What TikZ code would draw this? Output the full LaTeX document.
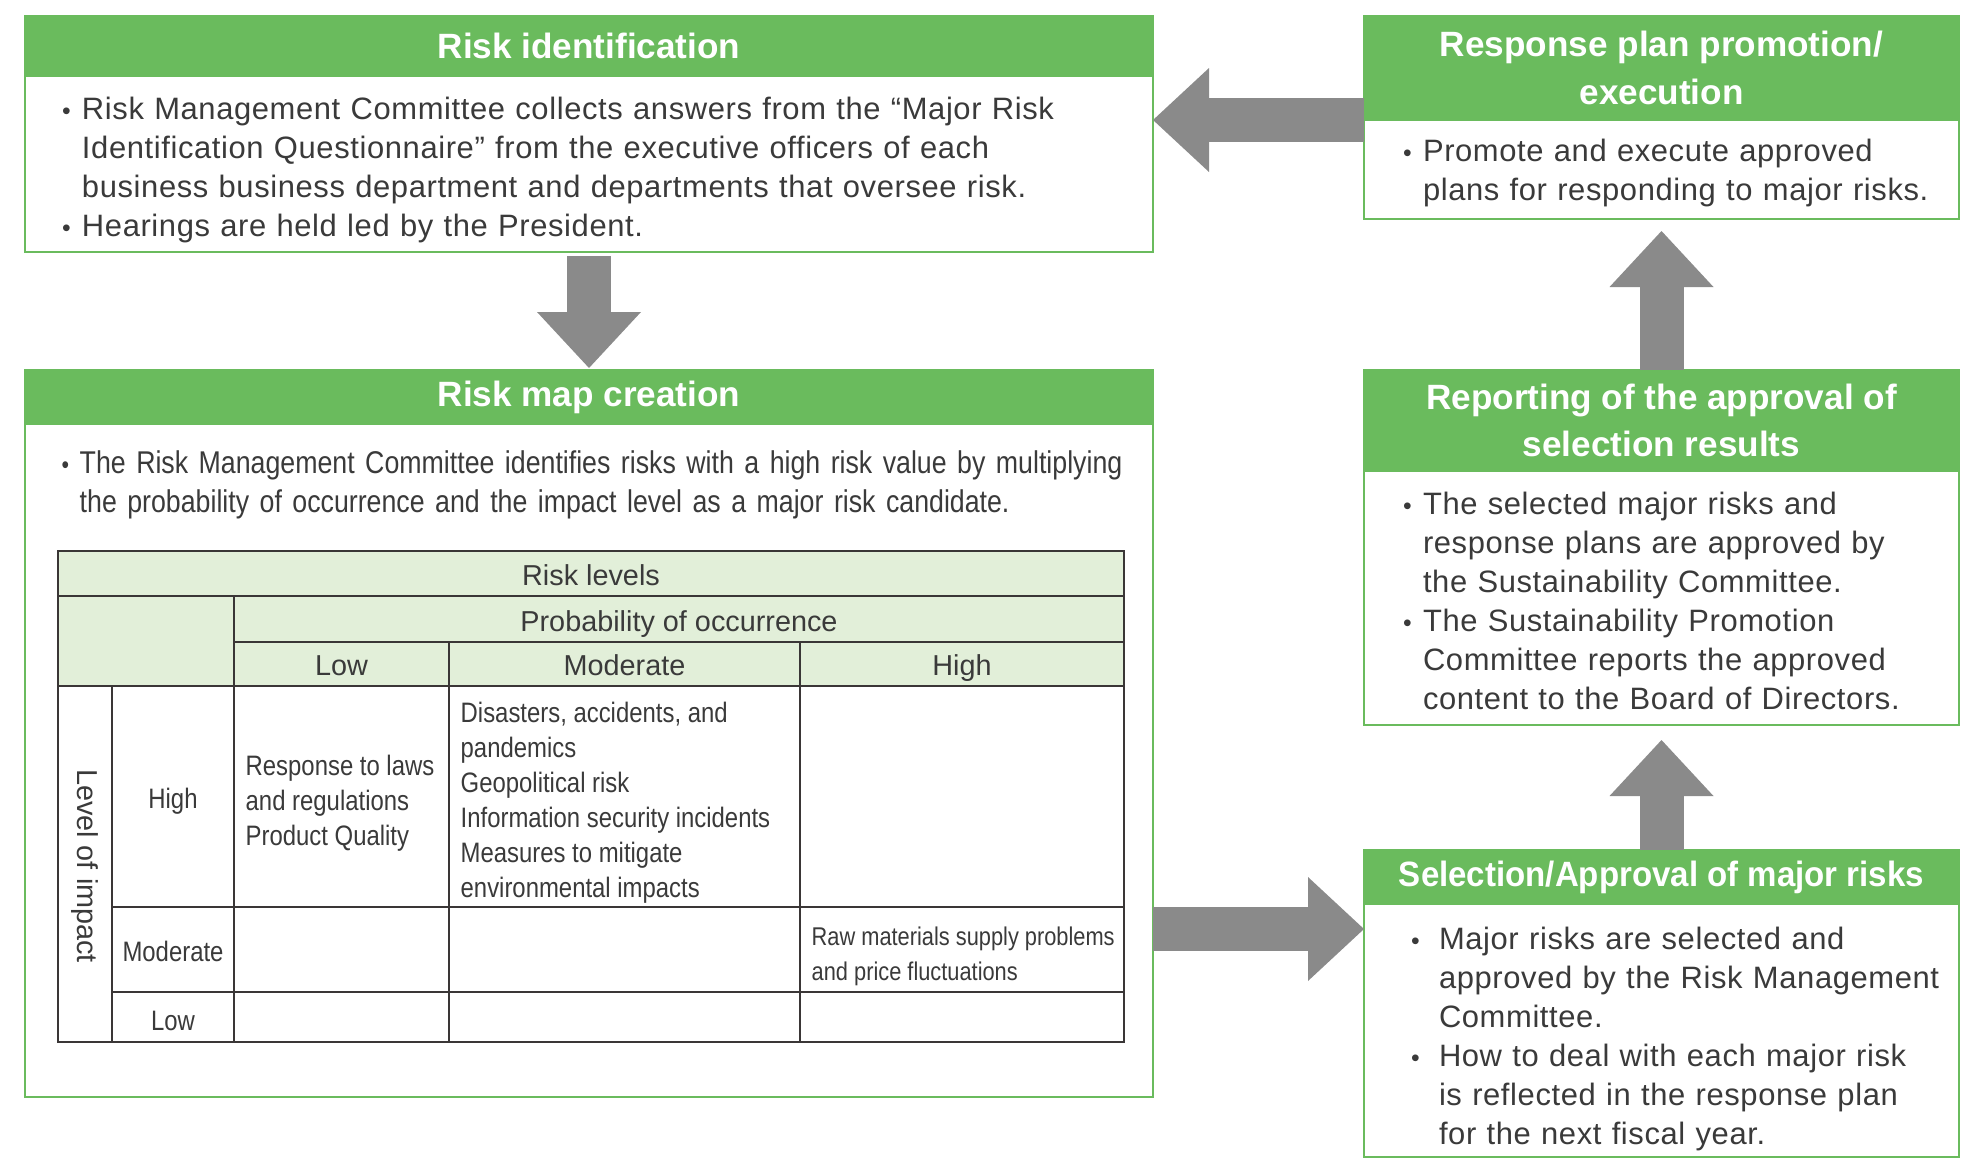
\documentclass[tikz,border=0pt]{standalone}
\usepackage{fontspec}
\setmainfont{Liberation Sans}
\newfontfamily\bodyfamily[LetterSpace=2]{Liberation Sans}
\newfontfamily\condfamily[FakeStretch=0.85]{Liberation Sans}
\newfontfamily\narrowfamily[FakeStretch=0.94]{Liberation Sans}
\usetikzlibrary{positioning,arrows.meta}
\definecolor{palGreen}{HTML}{6ABB5D}
\definecolor{palGreenLt}{HTML}{E2EFD9}
\definecolor{palGray}{HTML}{8A8A8A}
\definecolor{palText}{HTML}{3A3A3A}
\definecolor{palRule}{HTML}{3A3636}
\newcommand{\titlefont}{\fontsize{10}{13.6}\selectfont\bfseries}
\newcommand{\bodytext}{\bodyfamily\fontsize{8.8}{11.1}\selectfont}
\newcommand{\maptext}{\condfamily\fontsize{8.95}{11.2}\selectfont}
\newcommand{\celltext}{\condfamily\fontsize{8}{9.95}\selectfont}
\newcommand{\headtext}{\fontsize{8.2}{10}\selectfont}
% bullet list: #1 = bullet offset, #2 = text offset
\newenvironment{blist}[2]{\begin{list}{\scalebox{0.8}{\textbullet}}{%
  \setlength{\leftmargin}{#2}\setlength{\labelwidth}{\dimexpr#2-#1\relax}%
  \setlength{\labelsep}{0pt}\setlength{\itemindent}{0pt}%
  \setlength{\itemsep}{0pt}\setlength{\parsep}{0pt}\setlength{\topsep}{0pt}%
  \setlength{\partopsep}{0pt}\renewcommand{\makelabel}[1]{##1\hfil}}}{\end{list}}
\tikzset{
  headbox/.style={draw=palGreen, fill=palGreen, text=white, font=\titlefont,
                  align=center, inner sep=0pt, outer sep=0pt, line width=0.25mm},
  bodybox/.style={draw=palGreen, fill=white, text=palText, font=\bodytext,
                  align=left, inner ysep=0pt, inner xsep=2mm, outer sep=0pt,
                  line width=0.25mm},
  tabrule/.style={draw=palRule, line width=0.17mm},
  cellhead/.style={font=\headtext, text=palText, inner sep=0pt, anchor=base},
  rowhead/.style={cellhead, font=\celltext},
  celltxt/.style={font=\celltext, text=palText, align=left, anchor=west, inner sep=0pt},
  blockarrow/.style={draw=palGray, line width=4.4mm,
                     -{Triangle[length=5.6mm, width=10.4mm, line width=0pt]}},
}
\begin{document}
\begin{tikzpicture}[x=1mm, y=-1mm]
\useasboundingbox (0,0) rectangle (198,117.5);

%% Risk identification
\node[headbox, minimum width=112.8mm, minimum height=6mm, anchor=north west]
  (identhead) at (2.5,1.6) {Risk identification};
\node[bodybox, minimum width=112.8mm, text width=108.8mm, minimum height=17.6mm,
  below=0pt of identhead] (identbody) {%
  \begin{blist}{1.7mm}{3.7mm}
  \item Risk Management Committee collects answers from the “Major Risk\newline
    Identification Questionnaire” from the executive officers of each\newline
    business business department and departments that oversee risk.
  \item Hearings are held led by the President.
  \end{blist}\vspace*{0.5mm}};

%% Risk map creation
\node[headbox, minimum width=112.8mm, minimum height=5.4mm, anchor=north west]
  (maphead) at (2.5,37.0) {Risk map creation};
\node[bodybox, minimum width=112.8mm, minimum height=67.3mm, below=0pt of maphead]
  (mapbody) {};
\node[anchor=north west, inner sep=0pt, text width=108mm, align=left,
  font=\maptext, text=palText] (mapnote) at (6.1,43.35) {%
  \begin{blist}{0mm}{1.8mm}
  \item The Risk Management Committee identifies risks with a high risk value by multiplying\newline
    the probability of occurrence and the impact level as a major risk candidate.
  \end{blist}};

%% Risk levels table
\fill[palGreenLt] (5.8,55.1) rectangle (112.4,68.6);
\draw[tabrule] (5.8,55.1) rectangle (112.4,104.2);
\draw[tabrule] (5.8,59.6) -- (112.4,59.6) (5.8,68.6) -- (112.4,68.6)
  (23.4,64.2) -- (112.4,64.2);
\foreach \y in {90.7,99.2} \draw[tabrule] (11.2,\y) -- (112.4,\y);
\draw[tabrule] (23.4,59.6) -- (23.4,104.2) (11.2,68.6) -- (11.2,104.2);
\foreach \x in {44.9,80.0} \draw[tabrule] (\x,64.2) -- (\x,104.2);

\node[cellhead] (levels) at (59.1,58.55) {Risk levels};
\node[cellhead] (prob) at (67.9,63.1) {Probability of occurrence};
\node[cellhead] (plow) at (34.15,67.5) {Low};
\node[cellhead] (pmod) at (62.45,67.5) {Moderate};
\node[cellhead] (phigh) at (96.2,67.5) {High};
\node[cellhead, anchor=center, rotate=-90] (impact) at (8.5,86.6) {Level of impact};
\node[rowhead] (ihigh) at (17.3,80.85) {High};
\node[rowhead] (imod) at (17.3,96.15) {Moderate};
\node[rowhead] (ilow) at (17.3,103.05) {Low};
\node[celltxt] (hlow) at (24.5,80.3) {Response to laws\\and regulations\\Product Quality};
\node[celltxt] (hmod) at (46.0,80.3) {Disasters, accidents, and\\pandemics\\Geopolitical risk\\
  Information security incidents\\Measures to mitigate\\environmental impacts};
\node[celltxt, font=\condfamily\fontsize{7.3}{9.95}\selectfont] (mhigh) at (81.1,95.6)
  {Raw materials supply problems\\and price fluctuations};

%% Response plan promotion/execution
\node[headbox, minimum width=59.5mm, minimum height=10.4mm, anchor=north west]
  (resphead) at (136.4,1.6) {Response plan promotion/\\execution};
\node[bodybox, minimum width=59.5mm, text width=55.5mm, minimum height=9.9mm,
  below=0pt of resphead] (respbody) {%
  \begin{blist}{1.9mm}{3.9mm}
  \item Promote and execute approved\newline plans for responding to major risks.
  \end{blist}\vspace*{1.0mm}};

%% Reporting of the approval of selection results
\node[headbox, minimum width=59.5mm, minimum height=10.1mm, anchor=north west]
  (rephead) at (136.4,37.0) {Reporting of the approval of\\selection results};
\node[bodybox, minimum width=59.5mm, text width=55.5mm, minimum height=25.4mm,
  below=0pt of rephead] (repbody) {%
  \begin{blist}{1.9mm}{3.9mm}
  \item The selected major risks and\newline response plans are approved by\newline
    the Sustainability Committee.
  \item The Sustainability Promotion\newline Committee reports the approved\newline
    content to the Board of Directors.
  \end{blist}\vspace*{1.1mm}};

%% Selection/Approval of major risks
\node[headbox, font=\narrowfamily\titlefont, minimum width=59.5mm, minimum height=5.4mm,
  anchor=north west] (selhead) at (136.4,85.0) {Selection/Approval of major risks};
\node[bodybox, minimum width=59.5mm, inner xsep=0.5mm, text width=58.5mm,
  minimum height=25.3mm, below=0pt of selhead] (selbody) {%
  \begin{blist}{4.2mm}{7.0mm}
  \item Major risks are selected and\newline approved by the Risk Management\newline Committee.
  \item How to deal with each major risk\newline is reflected in the response plan\newline
    for the next fiscal year.
  \end{blist}};

%% Flow arrows
\coordinate (selin) at ([yshift=-2.5mm]selhead.south west);
\draw[blockarrow, shorten <=0.4mm, shorten >=0.2mm] (identbody.south) -- (maphead.north);
\draw[blockarrow] (mapbody.east |- selin) -- (selin);
\draw[blockarrow, shorten >=1.5mm] (selhead.north) -- (repbody.south);
\draw[blockarrow, shorten >=1.2mm] (rephead.north) -- (respbody.south);
\draw[blockarrow] (resphead.south west) -- (resphead.south west -| identbody.east);
\end{tikzpicture}
\end{document}
